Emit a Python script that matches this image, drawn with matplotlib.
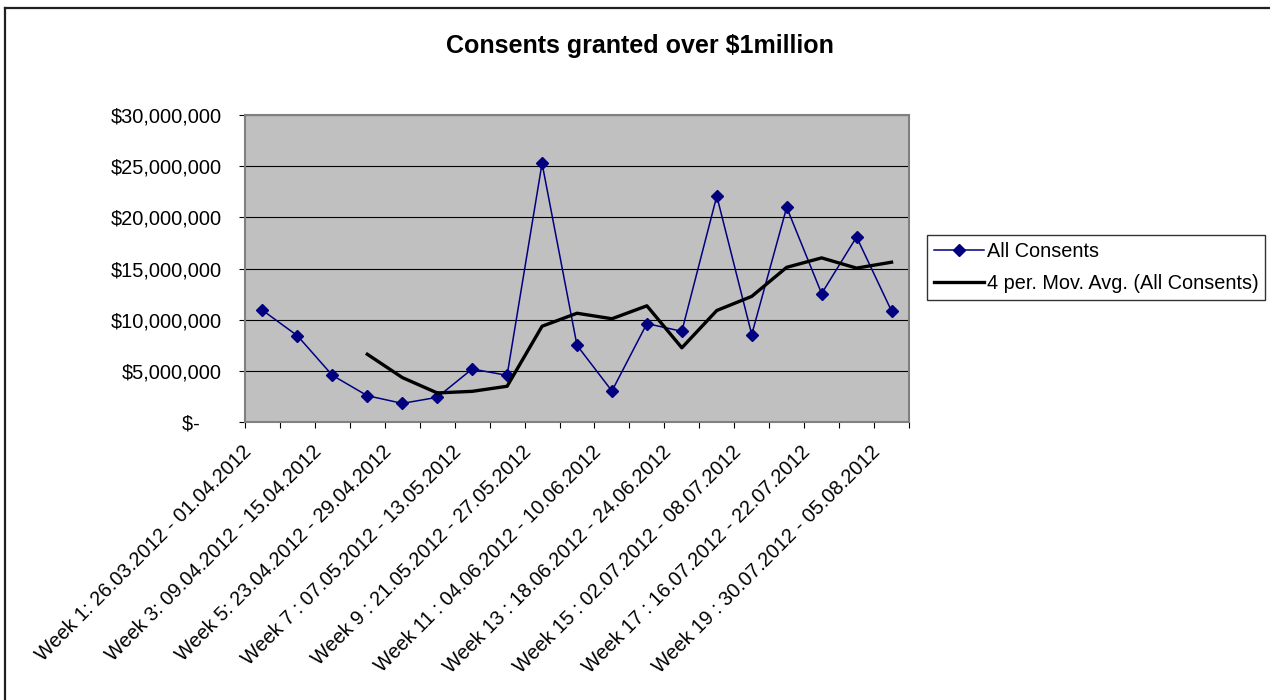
import matplotlib
matplotlib.use("Agg")
import matplotlib.pyplot as plt
import matplotlib.transforms as mtransforms
import numpy as np
import pandas as pd
from matplotlib.lines import Line2D
from matplotlib.ticker import FixedLocator, FuncFormatter, NullFormatter

plt.rcParams['font.family'] = ['Liberation Sans', 'DejaVu Sans']

weeks = [
    "Week 1: 26.03.2012 - 01.04.2012", "Week 2", "Week 3: 09.04.2012 - 15.04.2012", "Week 4",
    "Week 5: 23.04.2012 - 29.04.2012", "Week 6", "Week 7 : 07.05.2012 - 13.05.2012", "Week 8",
    "Week 9 : 21.05.2012 - 27.05.2012", "Week 10", "Week 11 : 04.06.2012 - 10.06.2012", "Week 12",
    "Week 13 : 18.06.2012 - 24.06.2012", "Week 14", "Week 15 : 02.07.2012 - 08.07.2012", "Week 16",
    "Week 17 : 16.07.2012 - 22.07.2012", "Week 18", "Week 19 : 30.07.2012 - 05.08.2012",
]
all_consents = [
    10920000, 8430000, 4560000, 2570000, 1820000, 2410000, 5180000, 4560000, 25280000,
    7490000, 3030000, 9620000, 8860000, 22080000, 8540000, 20980000, 12550000, 18080000, 10850000,
]
y_ticks = [0, 5000000, 10000000, 15000000, 20000000, 25000000, 30000000]

title = "Consents granted over $1million"
series_label = "All Consents"
ma_label = "4 per. Mov. Avg. (All Consents)"

# 4-period moving average trendline (as Excel computes it)
moving_avg = pd.Series(all_consents, dtype=float).rolling(4).mean().to_numpy()

W, H = 1270, 700
fig = plt.figure(figsize=(W / 100, H / 100), dpi=100)
fig.patch.set_facecolor("white")

# outer chart border (left and top visible)
fig.add_artist(Line2D([5 / W, 5 / W], [0, 1 - 8 / H], transform=fig.transFigure,
                      color="#202020", lw=1.6))
fig.add_artist(Line2D([5 / W, 1.0], [1 - 8 / H, 1 - 8 / H], transform=fig.transFigure,
                      color="#202020", lw=1.6))

left, right, top, bottom = 245, 909, 115, 422
ax = fig.add_axes([left / W, 1 - bottom / H, (right - left) / W, (bottom - top) / H])
ax.set_facecolor("#C0C0C0")

x = np.arange(len(all_consents))
ax.plot(x, all_consents, color="#000080", lw=1.1, marker="D", markersize=6.5,
        markerfacecolor="#000080", markeredgecolor="#000080", label=series_label, zorder=3)
ax.plot(x, moving_avg, color="black", lw=2.4, label=ma_label, zorder=4)

ax.set_xlim(-0.5, len(all_consents) - 0.5)
ax.set_ylim(y_ticks[0], y_ticks[-1])

ax.set_yticks(y_ticks)
ax.grid(axis="y", color="black", lw=0.8)
ax.set_axisbelow(True)

def money(v, pos):
    if v == 0:
        return "$-\u2007\u2007"
    return "${:,.0f}".format(v)

ax.yaxis.set_major_formatter(FuncFormatter(money))
ax.tick_params(axis="y", direction="out", length=4.5, width=0.8, color="black",
               labelsize=14.4, pad=12)

# x: tick marks between categories, labels every other category
ax.xaxis.set_major_locator(FixedLocator(np.arange(-0.5, len(all_consents), 1.0)))
ax.xaxis.set_major_formatter(NullFormatter())
ax.xaxis.set_minor_locator(FixedLocator(x[::2]))
ax.set_xticklabels([weeks[i] for i in x[::2]], minor=True)
ax.tick_params(axis="x", which="major", direction="out", length=4.5, width=0.8, color="black")
ax.tick_params(axis="x", which="minor", length=0, labelsize=14.4, pad=19.5)
shift = mtransforms.ScaledTranslation(-14 / 100, 0, fig.dpi_scale_trans)
for tick in ax.xaxis.get_minor_ticks():
    lab = tick.label1
    lab.set_rotation(45)
    lab.set_rotation_mode("anchor")
    lab.set_ha("right")
    lab.set_va("center")
    lab.set_transform(lab.get_transform() + shift)

for s in ax.spines.values():
    s.set_color("#808080")
    s.set_linewidth(1.5)

fig.text(640 / W, 1 - 46 / H, title, ha="center", va="center", fontsize=18, fontweight="bold")

leg = ax.legend(loc="upper left", bbox_to_anchor=(927 / W, 1 - 235 / H),
                bbox_transform=fig.transFigure, frameon=True, fancybox=False, shadow=False,
                fontsize=14.3, handlelength=2.5, handletextpad=0.15, labelspacing=0.65,
                borderpad=0.35, borderaxespad=0, markerscale=0.9)
leg.get_frame().set_edgecolor("black")
leg.get_frame().set_linewidth(1.0)
leg.get_frame().set_facecolor("white")

fig.savefig("out.png", dpi=100, facecolor="white")
